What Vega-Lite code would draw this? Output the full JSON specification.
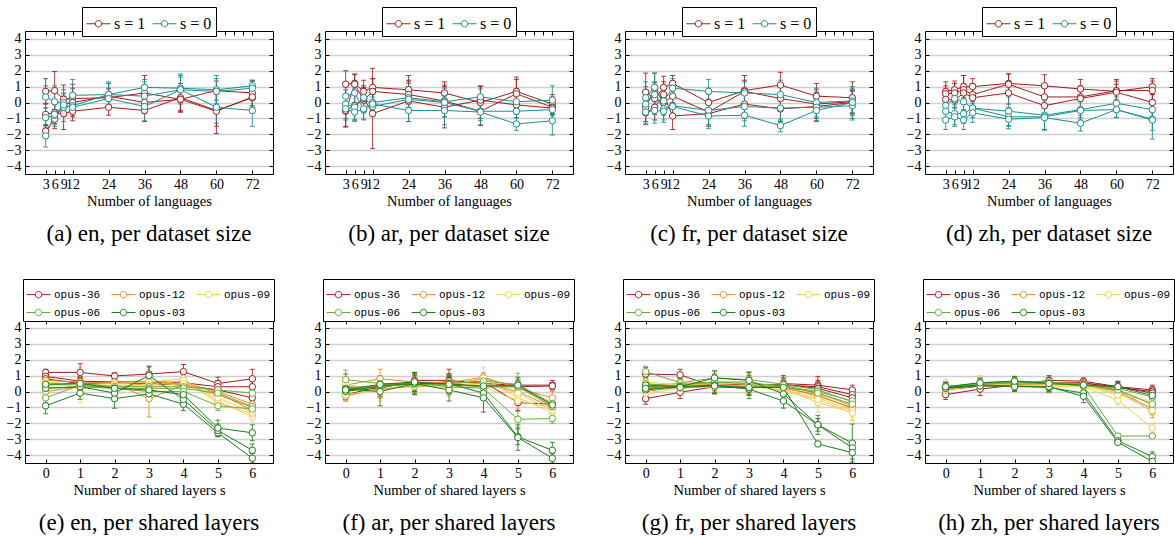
{
 "$schema": "https://vega.github.io/schema/vega-lite/v6.json",
 "background": "white",
 "padding": {"left": 5, "top": 6, "right": 0, "bottom": 0},
 "config": {
  "view": {"stroke": "black", "strokeWidth": 1},
  "font": "Liberation Serif",
  "axis": {"labelFont": "Liberation Serif", "labelFontSize": 14, "labelColor": "black", "titleFont": "Liberation Serif", "titleFontSize": 14.5, "titleFontWeight": "normal", "titleColor": "black", "titlePadding": 3, "domain": false, "tickColor": "black", "grid": false},
  "title": {"font": "Liberation Serif", "fontSize": 23, "fontWeight": "normal", "color": "black", "orient": "bottom", "offset": 15},
  "legend": {"title": null, "strokeColor": "black", "fillColor": "white", "padding": 3, "direction": "horizontal", "symbolType": "M-1,0H-0.27M0.27,0H1M0.27,0A0.27,0.27,0,1,1,-0.27,0A0.27,0.27,0,1,1,0.27,0", "symbolSize": 576, "symbolStrokeWidth": 1, "symbolFillColor": "white", "labelColor": "black", "columnPadding": 6, "rowPadding": 0, "labelOffset": 3}
 },
 "columns": 4,
 "spacing": {"row": 146, "column": 52},
 "bounds": "flush",
 "resolve": {"scale": {"color": "independent", "x": "independent", "y": "independent"}, "legend": {"color": "independent"}},
 "datasets": {
  "a": [
   {"x":3,"g":"s = 1","r":"a","y":0.7,"e":0.8},{"x":6,"g":"s = 1","r":"a","y":0.75,"e":1.2},{"x":9,"g":"s = 1","r":"a","y":0.2,"e":0.9},{"x":12,"g":"s = 1","r":"a","y":0.25,"e":0.9},{"x":24,"g":"s = 1","r":"a","y":0.3,"e":0.6},{"x":36,"g":"s = 1","r":"a","y":0.6,"e":1.1},{"x":48,"g":"s = 1","r":"a","y":0.2,"e":0.7},{"x":60,"g":"s = 1","r":"a","y":0.75,"e":0.6},{"x":72,"g":"s = 1","r":"a","y":0.6,"e":0.8},
   {"x":3,"g":"s = 1","r":"b","y":-0.75,"e":0.7},{"x":6,"g":"s = 1","r":"b","y":-0.65,"e":0.7},{"x":9,"g":"s = 1","r":"b","y":-0.7,"e":1.0},{"x":12,"g":"s = 1","r":"b","y":-0.55,"e":0.6},{"x":24,"g":"s = 1","r":"b","y":-0.3,"e":0.5},{"x":36,"g":"s = 1","r":"b","y":-0.5,"e":0.7},{"x":48,"g":"s = 1","r":"b","y":0.3,"e":0.9},{"x":60,"g":"s = 1","r":"b","y":-0.5,"e":1.0},{"x":72,"g":"s = 1","r":"b","y":0.3,"e":0.6},
   {"x":3,"g":"s = 1","r":"c","y":-1.8,"e":0.4},{"x":6,"g":"s = 1","r":"c","y":-1.05,"e":0.6},{"x":9,"g":"s = 1","r":"c","y":-0.1,"e":0.5},{"x":12,"g":"s = 1","r":"c","y":0.0,"e":0.9},{"x":24,"g":"s = 1","r":"c","y":0.4,"e":0.8},{"x":36,"g":"s = 1","r":"c","y":0.0,"e":0.7},{"x":48,"g":"s = 1","r":"c","y":0.2,"e":0.8},{"x":60,"g":"s = 1","r":"c","y":-0.55,"e":1.4},{"x":72,"g":"s = 1","r":"c","y":0.35,"e":1.0},
   {"x":3,"g":"s = 0","r":"a","y":0.35,"e":0.7},{"x":6,"g":"s = 0","r":"a","y":0.05,"e":1.0},{"x":9,"g":"s = 0","r":"a","y":0.0,"e":0.8},{"x":12,"g":"s = 0","r":"a","y":0.45,"e":1.0},{"x":24,"g":"s = 0","r":"a","y":0.5,"e":0.8},{"x":36,"g":"s = 0","r":"a","y":0.95,"e":0.5},{"x":48,"g":"s = 0","r":"a","y":0.9,"e":0.9},{"x":60,"g":"s = 0","r":"a","y":0.8,"e":0.9},{"x":72,"g":"s = 0","r":"a","y":1.05,"e":0.3},
   {"x":3,"g":"s = 0","r":"b","y":-0.95,"e":0.6},{"x":6,"g":"s = 0","r":"b","y":-0.8,"e":0.7},{"x":9,"g":"s = 0","r":"b","y":-0.3,"e":0.9},{"x":12,"g":"s = 0","r":"b","y":-0.2,"e":0.5},{"x":24,"g":"s = 0","r":"b","y":0.5,"e":0.7},{"x":36,"g":"s = 0","r":"b","y":0.4,"e":0.9},{"x":48,"g":"s = 0","r":"b","y":0.8,"e":0.9},{"x":60,"g":"s = 0","r":"b","y":-0.3,"e":1.0},{"x":72,"g":"s = 0","r":"b","y":-0.5,"e":1.0},
   {"x":3,"g":"s = 0","r":"c","y":-2.1,"e":0.7},{"x":6,"g":"s = 0","r":"c","y":-0.75,"e":0.6},{"x":9,"g":"s = 0","r":"c","y":-0.15,"e":0.7},{"x":12,"g":"s = 0","r":"c","y":-0.3,"e":0.5},{"x":24,"g":"s = 0","r":"c","y":0.25,"e":0.6},{"x":36,"g":"s = 0","r":"c","y":-0.25,"e":0.9},{"x":48,"g":"s = 0","r":"c","y":0.8,"e":0.8},{"x":60,"g":"s = 0","r":"c","y":0.7,"e":0.8},{"x":72,"g":"s = 0","r":"c","y":0.9,"e":0.5}
  ],
  "b": [
   {"x":3,"g":"s = 1","r":"a","y":1.15,"e":0.85},{"x":6,"g":"s = 1","r":"a","y":1.2,"e":0.6},{"x":9,"g":"s = 1","r":"a","y":0.7,"e":0.7},{"x":12,"g":"s = 1","r":"a","y":0.95,"e":1.2},{"x":24,"g":"s = 1","r":"a","y":0.8,"e":0.9},{"x":36,"g":"s = 1","r":"a","y":0.6,"e":0.7},{"x":48,"g":"s = 1","r":"a","y":0.0,"e":1.0},{"x":60,"g":"s = 1","r":"a","y":0.7,"e":0.9},{"x":72,"g":"s = 1","r":"a","y":-0.1,"e":0.6},
   {"x":3,"g":"s = 1","r":"b","y":-0.55,"e":1.0},{"x":6,"g":"s = 1","r":"b","y":1.15,"e":0.6},{"x":9,"g":"s = 1","r":"b","y":0.15,"e":0.8},{"x":12,"g":"s = 1","r":"b","y":0.7,"e":0.8},{"x":24,"g":"s = 1","r":"b","y":0.5,"e":0.8},{"x":36,"g":"s = 1","r":"b","y":0.1,"e":1.0},{"x":48,"g":"s = 1","r":"b","y":-0.55,"e":0.9},{"x":60,"g":"s = 1","r":"b","y":0.55,"e":0.9},{"x":72,"g":"s = 1","r":"b","y":-0.3,"e":0.5},
   {"x":3,"g":"s = 1","r":"c","y":-0.5,"e":1.0},{"x":6,"g":"s = 1","r":"c","y":-0.2,"e":0.9},{"x":9,"g":"s = 1","r":"c","y":0.25,"e":0.8},{"x":12,"g":"s = 1","r":"c","y":-0.7,"e":2.2},{"x":24,"g":"s = 1","r":"c","y":0.1,"e":1.3},{"x":36,"g":"s = 1","r":"c","y":-0.3,"e":1.3},{"x":48,"g":"s = 1","r":"c","y":0.15,"e":0.9},{"x":60,"g":"s = 1","r":"c","y":-0.15,"e":0.8},{"x":72,"g":"s = 1","r":"c","y":-0.35,"e":0.7},
   {"x":3,"g":"s = 0","r":"a","y":0.4,"e":0.6},{"x":6,"g":"s = 0","r":"a","y":0.6,"e":0.8},{"x":9,"g":"s = 0","r":"a","y":-0.45,"e":0.6},{"x":12,"g":"s = 0","r":"a","y":0.0,"e":0.5},{"x":24,"g":"s = 0","r":"a","y":0.3,"e":0.9},{"x":36,"g":"s = 0","r":"a","y":0.05,"e":0.7},{"x":48,"g":"s = 0","r":"a","y":0.35,"e":0.5},{"x":60,"g":"s = 0","r":"a","y":0.05,"e":0.8},{"x":72,"g":"s = 0","r":"a","y":0.15,"e":0.9},
   {"x":3,"g":"s = 0","r":"b","y":-0.1,"e":0.9},{"x":6,"g":"s = 0","r":"b","y":-0.3,"e":0.8},{"x":9,"g":"s = 0","r":"b","y":0.3,"e":0.6},{"x":12,"g":"s = 0","r":"b","y":-0.25,"e":0.6},{"x":24,"g":"s = 0","r":"b","y":0.2,"e":0.8},{"x":36,"g":"s = 0","r":"b","y":0.0,"e":0.9},{"x":48,"g":"s = 0","r":"b","y":-0.55,"e":0.6},{"x":60,"g":"s = 0","r":"b","y":-0.55,"e":0.7},{"x":72,"g":"s = 0","r":"b","y":-0.45,"e":0.6},
   {"x":3,"g":"s = 0","r":"c","y":-0.4,"e":0.7},{"x":6,"g":"s = 0","r":"c","y":-0.6,"e":0.6},{"x":9,"g":"s = 0","r":"c","y":-0.4,"e":0.7},{"x":12,"g":"s = 0","r":"c","y":-0.1,"e":0.6},{"x":24,"g":"s = 0","r":"c","y":-0.5,"e":0.7},{"x":36,"g":"s = 0","r":"c","y":-0.5,"e":0.9},{"x":48,"g":"s = 0","r":"c","y":-0.6,"e":0.8},{"x":60,"g":"s = 0","r":"c","y":-1.35,"e":0.4},{"x":72,"g":"s = 0","r":"c","y":-1.15,"e":0.9}
  ],
  "c": [
   {"x":3,"g":"s = 1","r":"a","y":0.65,"e":1.2},{"x":6,"g":"s = 1","r":"a","y":0.25,"e":1.0},{"x":9,"g":"s = 1","r":"a","y":0.95,"e":0.7},{"x":12,"g":"s = 1","r":"a","y":1.2,"e":0.5},{"x":24,"g":"s = 1","r":"a","y":0.0,"e":0.9},{"x":36,"g":"s = 1","r":"a","y":0.75,"e":0.95},{"x":48,"g":"s = 1","r":"a","y":1.1,"e":0.8},{"x":60,"g":"s = 1","r":"a","y":0.4,"e":0.8},{"x":72,"g":"s = 1","r":"a","y":0.3,"e":1.0},
   {"x":3,"g":"s = 1","r":"b","y":-0.3,"e":0.9},{"x":6,"g":"s = 1","r":"b","y":0.85,"e":1.0},{"x":9,"g":"s = 1","r":"b","y":0.0,"e":0.8},{"x":12,"g":"s = 1","r":"b","y":0.4,"e":0.7},{"x":24,"g":"s = 1","r":"b","y":-0.6,"e":0.8},{"x":36,"g":"s = 1","r":"b","y":0.7,"e":0.7},{"x":48,"g":"s = 1","r":"b","y":0.25,"e":0.8},{"x":60,"g":"s = 1","r":"b","y":-0.1,"e":0.9},{"x":72,"g":"s = 1","r":"b","y":0.05,"e":0.7},
   {"x":3,"g":"s = 1","r":"c","y":-0.65,"e":0.7},{"x":6,"g":"s = 1","r":"c","y":-0.3,"e":0.8},{"x":9,"g":"s = 1","r":"c","y":0.5,"e":0.8},{"x":12,"g":"s = 1","r":"c","y":-0.85,"e":0.85},{"x":24,"g":"s = 1","r":"c","y":-0.7,"e":0.8},{"x":36,"g":"s = 1","r":"c","y":-0.1,"e":0.9},{"x":48,"g":"s = 1","r":"c","y":-0.4,"e":0.8},{"x":60,"g":"s = 1","r":"c","y":-0.25,"e":0.9},{"x":72,"g":"s = 1","r":"c","y":0.0,"e":0.8},
   {"x":3,"g":"s = 0","r":"a","y":0.3,"e":1.0},{"x":6,"g":"s = 0","r":"a","y":0.95,"e":0.9},{"x":9,"g":"s = 0","r":"a","y":0.1,"e":0.8},{"x":12,"g":"s = 0","r":"a","y":0.9,"e":0.6},{"x":24,"g":"s = 0","r":"a","y":0.7,"e":0.75},{"x":36,"g":"s = 0","r":"a","y":0.6,"e":0.7},{"x":48,"g":"s = 0","r":"a","y":0.5,"e":0.9},{"x":60,"g":"s = 0","r":"a","y":0.0,"e":0.9},{"x":72,"g":"s = 0","r":"a","y":0.1,"e":0.8},
   {"x":3,"g":"s = 0","r":"b","y":-0.1,"e":1.1},{"x":6,"g":"s = 0","r":"b","y":0.5,"e":0.8},{"x":9,"g":"s = 0","r":"b","y":-0.4,"e":0.7},{"x":12,"g":"s = 0","r":"b","y":-0.2,"e":0.6},{"x":24,"g":"s = 0","r":"b","y":-0.5,"e":1.0},{"x":36,"g":"s = 0","r":"b","y":-0.25,"e":0.9},{"x":48,"g":"s = 0","r":"b","y":-0.35,"e":0.8},{"x":60,"g":"s = 0","r":"b","y":-0.3,"e":0.9},{"x":72,"g":"s = 0","r":"b","y":-0.2,"e":0.9},
   {"x":3,"g":"s = 0","r":"c","y":-0.6,"e":0.8},{"x":6,"g":"s = 0","r":"c","y":-0.5,"e":0.8},{"x":9,"g":"s = 0","r":"c","y":-0.55,"e":0.7},{"x":12,"g":"s = 0","r":"c","y":-0.25,"e":0.6},{"x":24,"g":"s = 0","r":"c","y":-0.85,"e":0.8},{"x":36,"g":"s = 0","r":"c","y":-0.8,"e":0.7},{"x":48,"g":"s = 0","r":"c","y":-1.45,"e":0.4},{"x":60,"g":"s = 0","r":"c","y":-0.5,"e":0.7},{"x":72,"g":"s = 0","r":"c","y":0.0,"e":1.0}
  ],
  "d": [
   {"x":3,"g":"s = 1","r":"a","y":0.7,"e":0.6},{"x":6,"g":"s = 1","r":"a","y":0.8,"e":0.55},{"x":9,"g":"s = 1","r":"a","y":1.0,"e":0.7},{"x":12,"g":"s = 1","r":"a","y":1.0,"e":0.5},{"x":24,"g":"s = 1","r":"a","y":1.2,"e":0.6},{"x":36,"g":"s = 1","r":"a","y":1.05,"e":0.7},{"x":48,"g":"s = 1","r":"a","y":0.85,"e":0.6},{"x":60,"g":"s = 1","r":"a","y":0.7,"e":0.75},{"x":72,"g":"s = 1","r":"a","y":1.0,"e":0.5},
   {"x":3,"g":"s = 1","r":"b","y":0.55,"e":0.5},{"x":6,"g":"s = 1","r":"b","y":0.6,"e":0.6},{"x":9,"g":"s = 1","r":"b","y":0.8,"e":0.9},{"x":12,"g":"s = 1","r":"b","y":0.5,"e":0.7},{"x":24,"g":"s = 1","r":"b","y":1.15,"e":0.65},{"x":36,"g":"s = 1","r":"b","y":0.35,"e":0.6},{"x":48,"g":"s = 1","r":"b","y":0.35,"e":0.7},{"x":60,"g":"s = 1","r":"b","y":0.75,"e":0.6},{"x":72,"g":"s = 1","r":"b","y":0.75,"e":0.6},
   {"x":3,"g":"s = 1","r":"c","y":0.2,"e":0.4},{"x":6,"g":"s = 1","r":"c","y":0.15,"e":0.5},{"x":9,"g":"s = 1","r":"c","y":0.6,"e":0.6},{"x":12,"g":"s = 1","r":"c","y":0.3,"e":0.6},{"x":24,"g":"s = 1","r":"c","y":0.6,"e":0.7},{"x":36,"g":"s = 1","r":"c","y":-0.2,"e":0.5},{"x":48,"g":"s = 1","r":"c","y":0.25,"e":0.6},{"x":60,"g":"s = 1","r":"c","y":0.65,"e":0.5},{"x":72,"g":"s = 1","r":"c","y":0.0,"e":0.5},
   {"x":3,"g":"s = 0","r":"a","y":-0.2,"e":0.5},{"x":6,"g":"s = 0","r":"a","y":0.25,"e":0.4},{"x":9,"g":"s = 0","r":"a","y":0.05,"e":0.5},{"x":12,"g":"s = 0","r":"a","y":-0.35,"e":0.4},{"x":24,"g":"s = 0","r":"a","y":-0.55,"e":0.9},{"x":36,"g":"s = 0","r":"a","y":-0.8,"e":0.9},{"x":48,"g":"s = 0","r":"a","y":-0.45,"e":0.5},{"x":60,"g":"s = 0","r":"a","y":-0.05,"e":0.4},{"x":72,"g":"s = 0","r":"a","y":-0.45,"e":0.6},
   {"x":3,"g":"s = 0","r":"b","y":-0.55,"e":0.5},{"x":6,"g":"s = 0","r":"b","y":-0.7,"e":0.7},{"x":9,"g":"s = 0","r":"b","y":-0.7,"e":0.6},{"x":12,"g":"s = 0","r":"b","y":-0.35,"e":0.6},{"x":24,"g":"s = 0","r":"b","y":-0.9,"e":0.6},{"x":36,"g":"s = 0","r":"b","y":-0.9,"e":0.8},{"x":48,"g":"s = 0","r":"b","y":-0.5,"e":0.6},{"x":60,"g":"s = 0","r":"b","y":-0.45,"e":0.5},{"x":72,"g":"s = 0","r":"b","y":-1.05,"e":0.7},
   {"x":3,"g":"s = 0","r":"c","y":-1.1,"e":0.6},{"x":6,"g":"s = 0","r":"c","y":-0.9,"e":0.6},{"x":9,"g":"s = 0","r":"c","y":-1.1,"e":0.6},{"x":12,"g":"s = 0","r":"c","y":-0.65,"e":0.6},{"x":24,"g":"s = 0","r":"c","y":-1.05,"e":0.6},{"x":36,"g":"s = 0","r":"c","y":-0.95,"e":0.8},{"x":48,"g":"s = 0","r":"c","y":-1.3,"e":0.5},{"x":60,"g":"s = 0","r":"c","y":-0.45,"e":0.5},{"x":72,"g":"s = 0","r":"c","y":-1.1,"e":1.2}
  ],
  "e": [
   {"x":0,"g":"opus-36","r":"a","y":1.2,"e":0.2},{"x":1,"g":"opus-36","r":"a","y":1.2,"e":0.55},{"x":2,"g":"opus-36","r":"a","y":0.98,"e":0.2},{"x":3,"g":"opus-36","r":"a","y":1.1,"e":0.45},{"x":4,"g":"opus-36","r":"a","y":1.25,"e":0.45},{"x":5,"g":"opus-36","r":"a","y":0.5,"e":0.4},{"x":6,"g":"opus-36","r":"a","y":0.8,"e":0.6},
   {"x":0,"g":"opus-36","r":"b","y":0.95,"e":0.2},{"x":1,"g":"opus-36","r":"b","y":0.65,"e":0.3},{"x":2,"g":"opus-36","r":"b","y":0.6,"e":0.2},{"x":3,"g":"opus-36","r":"b","y":0.6,"e":0.3},{"x":4,"g":"opus-36","r":"b","y":0.55,"e":0.3},{"x":5,"g":"opus-36","r":"b","y":0.3,"e":0.4},{"x":6,"g":"opus-36","r":"b","y":0.3,"e":0.4},
   {"x":0,"g":"opus-36","r":"c","y":0.8,"e":0.2},{"x":1,"g":"opus-36","r":"c","y":0.5,"e":0.3},{"x":2,"g":"opus-36","r":"c","y":0.55,"e":0.3},{"x":3,"g":"opus-36","r":"c","y":0.5,"e":0.3},{"x":4,"g":"opus-36","r":"c","y":0.4,"e":0.3},{"x":5,"g":"opus-36","r":"c","y":0.1,"e":0.3},{"x":6,"g":"opus-36","r":"c","y":-0.4,"e":0.3},
   {"x":0,"g":"opus-12","r":"a","y":0.7,"e":0.3},{"x":1,"g":"opus-12","r":"a","y":0.6,"e":0.5},{"x":2,"g":"opus-12","r":"a","y":0.5,"e":0.3},{"x":3,"g":"opus-12","r":"a","y":-0.45,"e":1.15},{"x":4,"g":"opus-12","r":"a","y":0.4,"e":0.4},{"x":5,"g":"opus-12","r":"a","y":-0.2,"e":0.4},{"x":6,"g":"opus-12","r":"a","y":-1.0,"e":0.4},
   {"x":0,"g":"opus-12","r":"b","y":0.0,"e":0.3},{"x":1,"g":"opus-12","r":"b","y":0.3,"e":0.4},{"x":2,"g":"opus-12","r":"b","y":0.3,"e":0.3},{"x":3,"g":"opus-12","r":"b","y":0.5,"e":0.4},{"x":4,"g":"opus-12","r":"b","y":0.5,"e":0.4},{"x":5,"g":"opus-12","r":"b","y":0.0,"e":0.4},{"x":6,"g":"opus-12","r":"b","y":-0.8,"e":0.4},
   {"x":0,"g":"opus-12","r":"c","y":0.5,"e":0.3},{"x":1,"g":"opus-12","r":"c","y":0.5,"e":0.4},{"x":2,"g":"opus-12","r":"c","y":0.6,"e":0.3},{"x":3,"g":"opus-12","r":"c","y":0.6,"e":0.3},{"x":4,"g":"opus-12","r":"c","y":0.6,"e":0.3},{"x":5,"g":"opus-12","r":"c","y":-0.1,"e":0.4},{"x":6,"g":"opus-12","r":"c","y":-1.2,"e":0.3},
   {"x":0,"g":"opus-09","r":"a","y":0.6,"e":0.3},{"x":1,"g":"opus-09","r":"a","y":0.4,"e":1.1},{"x":2,"g":"opus-09","r":"a","y":0.5,"e":0.3},{"x":3,"g":"opus-09","r":"a","y":0.6,"e":0.3},{"x":4,"g":"opus-09","r":"a","y":0.8,"e":0.3},{"x":5,"g":"opus-09","r":"a","y":-0.6,"e":0.3},{"x":6,"g":"opus-09","r":"a","y":-1.6,"e":0.3},
   {"x":0,"g":"opus-09","r":"b","y":0.5,"e":0.3},{"x":1,"g":"opus-09","r":"b","y":0.3,"e":0.4},{"x":2,"g":"opus-09","r":"b","y":0.4,"e":0.3},{"x":3,"g":"opus-09","r":"b","y":0.4,"e":0.3},{"x":4,"g":"opus-09","r":"b","y":0.7,"e":0.3},{"x":5,"g":"opus-09","r":"b","y":-0.7,"e":0.3},{"x":6,"g":"opus-09","r":"b","y":-1.4,"e":0.3},
   {"x":0,"g":"opus-09","r":"c","y":0.3,"e":0.3},{"x":1,"g":"opus-09","r":"c","y":0.2,"e":0.4},{"x":2,"g":"opus-09","r":"c","y":0.3,"e":0.3},{"x":3,"g":"opus-09","r":"c","y":0.3,"e":0.3},{"x":4,"g":"opus-09","r":"c","y":0.5,"e":0.3},{"x":5,"g":"opus-09","r":"c","y":-0.4,"e":0.3},{"x":6,"g":"opus-09","r":"c","y":-1.3,"e":0.3},
   {"x":0,"g":"opus-06","r":"a","y":0.4,"e":0.3},{"x":1,"g":"opus-06","r":"a","y":0.5,"e":0.4},{"x":2,"g":"opus-06","r":"a","y":0.3,"e":0.3},{"x":3,"g":"opus-06","r":"a","y":0.3,"e":0.3},{"x":4,"g":"opus-06","r":"a","y":0.3,"e":0.3},{"x":5,"g":"opus-06","r":"a","y":0.1,"e":0.3},{"x":6,"g":"opus-06","r":"a","y":-0.1,"e":0.3},
   {"x":0,"g":"opus-06","r":"b","y":-0.4,"e":0.3},{"x":1,"g":"opus-06","r":"b","y":0.4,"e":0.4},{"x":2,"g":"opus-06","r":"b","y":0.2,"e":0.3},{"x":3,"g":"opus-06","r":"b","y":0.2,"e":0.3},{"x":4,"g":"opus-06","r":"b","y":0.2,"e":0.3},{"x":5,"g":"opus-06","r":"b","y":-0.1,"e":0.3},{"x":6,"g":"opus-06","r":"b","y":-0.95,"e":0.3},
   {"x":0,"g":"opus-06","r":"c","y":0.2,"e":0.3},{"x":1,"g":"opus-06","r":"c","y":0.3,"e":0.4},{"x":2,"g":"opus-06","r":"c","y":0.2,"e":0.3},{"x":3,"g":"opus-06","r":"c","y":0.0,"e":0.3},{"x":4,"g":"opus-06","r":"c","y":0.0,"e":0.3},{"x":5,"g":"opus-06","r":"c","y":-0.9,"e":0.3},{"x":6,"g":"opus-06","r":"c","y":-1.1,"e":0.3},
   {"x":0,"g":"opus-03","r":"a","y":-0.9,"e":0.5},{"x":1,"g":"opus-03","r":"a","y":-0.1,"e":0.4},{"x":2,"g":"opus-03","r":"a","y":-0.45,"e":0.6},{"x":3,"g":"opus-03","r":"a","y":-0.15,"e":0.4},{"x":4,"g":"opus-03","r":"a","y":-0.8,"e":0.4},{"x":5,"g":"opus-03","r":"a","y":-2.6,"e":0.2},{"x":6,"g":"opus-03","r":"a","y":-4.2,"e":0.3},
   {"x":0,"g":"opus-03","r":"b","y":0.2,"e":0.3},{"x":1,"g":"opus-03","r":"b","y":0.3,"e":0.4},{"x":2,"g":"opus-03","r":"b","y":-0.1,"e":0.3},{"x":3,"g":"opus-03","r":"b","y":1.0,"e":0.6},{"x":4,"g":"opus-03","r":"b","y":-0.5,"e":0.4},{"x":5,"g":"opus-03","r":"b","y":-2.45,"e":0.4},{"x":6,"g":"opus-03","r":"b","y":-3.7,"e":0.4},
   {"x":0,"g":"opus-03","r":"c","y":0.45,"e":0.3},{"x":1,"g":"opus-03","r":"c","y":0.5,"e":0.4},{"x":2,"g":"opus-03","r":"c","y":0.2,"e":0.3},{"x":3,"g":"opus-03","r":"c","y":0.1,"e":0.3},{"x":4,"g":"opus-03","r":"c","y":-0.2,"e":0.3},{"x":5,"g":"opus-03","r":"c","y":-2.3,"e":0.5},{"x":6,"g":"opus-03","r":"c","y":-2.6,"e":0.5}
  ],
  "f": [
   {"x":0,"g":"opus-36","r":"a","y":0.3,"e":0.8},{"x":1,"g":"opus-36","r":"a","y":0.2,"e":0.5},{"x":2,"g":"opus-36","r":"a","y":0.7,"e":0.5},{"x":3,"g":"opus-36","r":"a","y":0.7,"e":0.7},{"x":4,"g":"opus-36","r":"a","y":0.5,"e":0.4},{"x":5,"g":"opus-36","r":"a","y":0.4,"e":0.3},{"x":6,"g":"opus-36","r":"a","y":0.4,"e":0.3},
   {"x":0,"g":"opus-36","r":"b","y":-0.2,"e":0.4},{"x":1,"g":"opus-36","r":"b","y":0.3,"e":0.5},{"x":2,"g":"opus-36","r":"b","y":0.5,"e":0.5},{"x":3,"g":"opus-36","r":"b","y":0.6,"e":0.5},{"x":4,"g":"opus-36","r":"b","y":0.6,"e":0.4},{"x":5,"g":"opus-36","r":"b","y":-0.7,"e":0.5},{"x":6,"g":"opus-36","r":"b","y":-0.8,"e":0.3},
   {"x":0,"g":"opus-36","r":"c","y":0.2,"e":0.4},{"x":1,"g":"opus-36","r":"c","y":0.1,"e":0.5},{"x":2,"g":"opus-36","r":"c","y":0.4,"e":0.4},{"x":3,"g":"opus-36","r":"c","y":0.5,"e":0.5},{"x":4,"g":"opus-36","r":"c","y":0.3,"e":0.4},{"x":5,"g":"opus-36","r":"c","y":0.3,"e":0.3},{"x":6,"g":"opus-36","r":"c","y":0.35,"e":0.2},
   {"x":0,"g":"opus-12","r":"a","y":0.4,"e":0.4},{"x":1,"g":"opus-12","r":"a","y":0.8,"e":0.6},{"x":2,"g":"opus-12","r":"a","y":0.6,"e":0.5},{"x":3,"g":"opus-12","r":"a","y":0.55,"e":0.5},{"x":4,"g":"opus-12","r":"a","y":0.9,"e":0.3},{"x":5,"g":"opus-12","r":"a","y":0.2,"e":0.5},{"x":6,"g":"opus-12","r":"a","y":-0.4,"e":0.4},
   {"x":0,"g":"opus-12","r":"b","y":-0.3,"e":0.3},{"x":1,"g":"opus-12","r":"b","y":0.2,"e":0.5},{"x":2,"g":"opus-12","r":"b","y":0.3,"e":0.5},{"x":3,"g":"opus-12","r":"b","y":0.4,"e":0.5},{"x":4,"g":"opus-12","r":"b","y":0.8,"e":0.3},{"x":5,"g":"opus-12","r":"b","y":0.3,"e":0.4},{"x":6,"g":"opus-12","r":"b","y":-0.8,"e":0.4},
   {"x":0,"g":"opus-12","r":"c","y":0.0,"e":0.4},{"x":1,"g":"opus-12","r":"c","y":0.4,"e":0.5},{"x":2,"g":"opus-12","r":"c","y":0.5,"e":0.5},{"x":3,"g":"opus-12","r":"c","y":0.6,"e":0.5},{"x":4,"g":"opus-12","r":"c","y":0.5,"e":0.4},{"x":5,"g":"opus-12","r":"c","y":0.0,"e":0.5},{"x":6,"g":"opus-12","r":"c","y":-1.0,"e":0.4},
   {"x":0,"g":"opus-09","r":"a","y":0.5,"e":0.4},{"x":1,"g":"opus-09","r":"a","y":0.0,"e":0.6},{"x":2,"g":"opus-09","r":"a","y":0.6,"e":0.5},{"x":3,"g":"opus-09","r":"a","y":0.4,"e":0.5},{"x":4,"g":"opus-09","r":"a","y":0.85,"e":0.7},{"x":5,"g":"opus-09","r":"a","y":-0.4,"e":0.6},{"x":6,"g":"opus-09","r":"a","y":-1.3,"e":0.5},
   {"x":0,"g":"opus-09","r":"b","y":0.2,"e":0.4},{"x":1,"g":"opus-09","r":"b","y":0.3,"e":0.5},{"x":2,"g":"opus-09","r":"b","y":0.5,"e":0.5},{"x":3,"g":"opus-09","r":"b","y":0.3,"e":0.5},{"x":4,"g":"opus-09","r":"b","y":0.5,"e":0.4},{"x":5,"g":"opus-09","r":"b","y":-0.1,"e":0.5},{"x":6,"g":"opus-09","r":"b","y":-1.2,"e":0.4},
   {"x":0,"g":"opus-09","r":"c","y":-0.2,"e":0.4},{"x":1,"g":"opus-09","r":"c","y":0.1,"e":0.5},{"x":2,"g":"opus-09","r":"c","y":0.4,"e":0.5},{"x":3,"g":"opus-09","r":"c","y":0.2,"e":0.5},{"x":4,"g":"opus-09","r":"c","y":0.3,"e":0.4},{"x":5,"g":"opus-09","r":"c","y":-0.6,"e":0.5},{"x":6,"g":"opus-09","r":"c","y":-1.0,"e":0.4},
   {"x":0,"g":"opus-06","r":"a","y":0.75,"e":0.6},{"x":1,"g":"opus-06","r":"a","y":0.5,"e":0.5},{"x":2,"g":"opus-06","r":"a","y":0.5,"e":0.5},{"x":3,"g":"opus-06","r":"a","y":0.5,"e":0.5},{"x":4,"g":"opus-06","r":"a","y":0.65,"e":0.4},{"x":5,"g":"opus-06","r":"a","y":0.45,"e":0.7},{"x":6,"g":"opus-06","r":"a","y":-0.75,"e":0.4},
   {"x":0,"g":"opus-06","r":"b","y":0.1,"e":0.5},{"x":1,"g":"opus-06","r":"b","y":0.3,"e":0.5},{"x":2,"g":"opus-06","r":"b","y":0.5,"e":0.5},{"x":3,"g":"opus-06","r":"b","y":0.4,"e":0.5},{"x":4,"g":"opus-06","r":"b","y":0.3,"e":0.4},{"x":5,"g":"opus-06","r":"b","y":0.3,"e":0.5},{"x":6,"g":"opus-06","r":"b","y":-0.95,"e":0.4},
   {"x":0,"g":"opus-06","r":"c","y":0.2,"e":0.4},{"x":1,"g":"opus-06","r":"c","y":0.4,"e":0.5},{"x":2,"g":"opus-06","r":"c","y":0.55,"e":0.5},{"x":3,"g":"opus-06","r":"c","y":0.3,"e":0.5},{"x":4,"g":"opus-06","r":"c","y":0.2,"e":0.4},{"x":5,"g":"opus-06","r":"c","y":-1.75,"e":0.5},{"x":6,"g":"opus-06","r":"c","y":-1.7,"e":0.3},
   {"x":0,"g":"opus-03","r":"a","y":0.0,"e":0.5},{"x":1,"g":"opus-03","r":"a","y":0.35,"e":0.5},{"x":2,"g":"opus-03","r":"a","y":0.5,"e":0.7},{"x":3,"g":"opus-03","r":"a","y":0.5,"e":0.6},{"x":4,"g":"opus-03","r":"a","y":-0.1,"e":0.4},{"x":5,"g":"opus-03","r":"a","y":-2.85,"e":0.5},{"x":6,"g":"opus-03","r":"a","y":-3.7,"e":0.5},
   {"x":0,"g":"opus-03","r":"b","y":0.15,"e":0.4},{"x":1,"g":"opus-03","r":"b","y":0.0,"e":0.9},{"x":2,"g":"opus-03","r":"b","y":0.5,"e":0.6},{"x":3,"g":"opus-03","r":"b","y":0.1,"e":0.7},{"x":4,"g":"opus-03","r":"b","y":-0.4,"e":0.9},{"x":5,"g":"opus-03","r":"b","y":-2.9,"e":0.8},{"x":6,"g":"opus-03","r":"b","y":-4.2,"e":0.3},
   {"x":0,"g":"opus-03","r":"c","y":0.1,"e":0.4},{"x":1,"g":"opus-03","r":"c","y":0.45,"e":0.5},{"x":2,"g":"opus-03","r":"c","y":0.6,"e":0.6},{"x":3,"g":"opus-03","r":"c","y":0.45,"e":0.5},{"x":4,"g":"opus-03","r":"c","y":0.35,"e":0.4},{"x":5,"g":"opus-03","r":"c","y":0.4,"e":0.5},{"x":6,"g":"opus-03","r":"c","y":-0.85,"e":0.4}
  ],
  "g": [
   {"x":0,"g":"opus-36","r":"a","y":1.1,"e":0.4},{"x":1,"g":"opus-36","r":"a","y":1.05,"e":0.35},{"x":2,"g":"opus-36","r":"a","y":0.3,"e":0.4},{"x":3,"g":"opus-36","r":"a","y":0.2,"e":0.4},{"x":4,"g":"opus-36","r":"a","y":0.5,"e":0.5},{"x":5,"g":"opus-36","r":"a","y":0.4,"e":0.55},{"x":6,"g":"opus-36","r":"a","y":0.1,"e":0.3},
   {"x":0,"g":"opus-36","r":"b","y":-0.45,"e":0.35},{"x":1,"g":"opus-36","r":"b","y":-0.05,"e":0.4},{"x":2,"g":"opus-36","r":"b","y":0.3,"e":0.4},{"x":3,"g":"opus-36","r":"b","y":0.3,"e":0.4},{"x":4,"g":"opus-36","r":"b","y":0.4,"e":0.4},{"x":5,"g":"opus-36","r":"b","y":0.3,"e":0.4},{"x":6,"g":"opus-36","r":"b","y":-0.2,"e":0.3},
   {"x":0,"g":"opus-36","r":"c","y":0.3,"e":0.4},{"x":1,"g":"opus-36","r":"c","y":0.4,"e":0.4},{"x":2,"g":"opus-36","r":"c","y":0.5,"e":0.4},{"x":3,"g":"opus-36","r":"c","y":0.4,"e":0.4},{"x":4,"g":"opus-36","r":"c","y":0.45,"e":0.4},{"x":5,"g":"opus-36","r":"c","y":0.2,"e":0.4},{"x":6,"g":"opus-36","r":"c","y":-0.4,"e":0.3},
   {"x":0,"g":"opus-12","r":"a","y":0.2,"e":0.4},{"x":1,"g":"opus-12","r":"a","y":0.4,"e":0.4},{"x":2,"g":"opus-12","r":"a","y":0.5,"e":0.5},{"x":3,"g":"opus-12","r":"a","y":0.5,"e":0.5},{"x":4,"g":"opus-12","r":"a","y":0.3,"e":0.4},{"x":5,"g":"opus-12","r":"a","y":-0.1,"e":0.4},{"x":6,"g":"opus-12","r":"a","y":-0.9,"e":0.4},
   {"x":0,"g":"opus-12","r":"b","y":0.0,"e":0.4},{"x":1,"g":"opus-12","r":"b","y":0.3,"e":0.4},{"x":2,"g":"opus-12","r":"b","y":0.4,"e":0.5},{"x":3,"g":"opus-12","r":"b","y":0.4,"e":0.5},{"x":4,"g":"opus-12","r":"b","y":0.3,"e":0.4},{"x":5,"g":"opus-12","r":"b","y":-0.3,"e":0.4},{"x":6,"g":"opus-12","r":"b","y":-1.0,"e":0.4},
   {"x":0,"g":"opus-12","r":"c","y":0.4,"e":0.4},{"x":1,"g":"opus-12","r":"c","y":0.5,"e":0.4},{"x":2,"g":"opus-12","r":"c","y":0.6,"e":0.5},{"x":3,"g":"opus-12","r":"c","y":0.6,"e":0.5},{"x":4,"g":"opus-12","r":"c","y":0.2,"e":0.4},{"x":5,"g":"opus-12","r":"c","y":-0.2,"e":0.4},{"x":6,"g":"opus-12","r":"c","y":-1.1,"e":0.4},
   {"x":0,"g":"opus-09","r":"a","y":0.6,"e":0.4},{"x":1,"g":"opus-09","r":"a","y":0.4,"e":0.4},{"x":2,"g":"opus-09","r":"a","y":0.5,"e":0.5},{"x":3,"g":"opus-09","r":"a","y":0.5,"e":0.5},{"x":4,"g":"opus-09","r":"a","y":0.2,"e":0.4},{"x":5,"g":"opus-09","r":"a","y":-0.7,"e":0.6},{"x":6,"g":"opus-09","r":"a","y":-1.3,"e":0.5},
   {"x":0,"g":"opus-09","r":"b","y":0.1,"e":0.4},{"x":1,"g":"opus-09","r":"b","y":0.3,"e":0.4},{"x":2,"g":"opus-09","r":"b","y":0.4,"e":0.5},{"x":3,"g":"opus-09","r":"b","y":0.3,"e":0.5},{"x":4,"g":"opus-09","r":"b","y":0.1,"e":0.4},{"x":5,"g":"opus-09","r":"b","y":-0.4,"e":0.4},{"x":6,"g":"opus-09","r":"b","y":-1.2,"e":0.4},
   {"x":0,"g":"opus-09","r":"c","y":-0.1,"e":0.4},{"x":1,"g":"opus-09","r":"c","y":0.2,"e":0.4},{"x":2,"g":"opus-09","r":"c","y":0.3,"e":0.5},{"x":3,"g":"opus-09","r":"c","y":0.4,"e":0.5},{"x":4,"g":"opus-09","r":"c","y":0.0,"e":0.4},{"x":5,"g":"opus-09","r":"c","y":-0.5,"e":0.4},{"x":6,"g":"opus-09","r":"c","y":-1.35,"e":0.5},
   {"x":0,"g":"opus-06","r":"a","y":1.25,"e":0.35},{"x":1,"g":"opus-06","r":"a","y":0.55,"e":0.4},{"x":2,"g":"opus-06","r":"a","y":0.85,"e":0.45},{"x":3,"g":"opus-06","r":"a","y":0.75,"e":0.5},{"x":4,"g":"opus-06","r":"a","y":0.45,"e":0.4},{"x":5,"g":"opus-06","r":"a","y":0.1,"e":0.4},{"x":6,"g":"opus-06","r":"a","y":-0.65,"e":0.4},
   {"x":0,"g":"opus-06","r":"b","y":0.5,"e":0.4},{"x":1,"g":"opus-06","r":"b","y":0.3,"e":0.4},{"x":2,"g":"opus-06","r":"b","y":0.4,"e":0.5},{"x":3,"g":"opus-06","r":"b","y":0.3,"e":0.5},{"x":4,"g":"opus-06","r":"b","y":0.3,"e":0.4},{"x":5,"g":"opus-06","r":"b","y":0.0,"e":0.4},{"x":6,"g":"opus-06","r":"b","y":-0.6,"e":0.4},
   {"x":0,"g":"opus-06","r":"c","y":0.3,"e":0.4},{"x":1,"g":"opus-06","r":"c","y":0.4,"e":0.4},{"x":2,"g":"opus-06","r":"c","y":0.6,"e":0.5},{"x":3,"g":"opus-06","r":"c","y":0.5,"e":0.5},{"x":4,"g":"opus-06","r":"c","y":0.4,"e":0.4},{"x":5,"g":"opus-06","r":"c","y":-0.1,"e":0.4},{"x":6,"g":"opus-06","r":"c","y":-0.8,"e":0.4},
   {"x":0,"g":"opus-03","r":"a","y":0.4,"e":0.4},{"x":1,"g":"opus-03","r":"a","y":0.3,"e":0.4},{"x":2,"g":"opus-03","r":"a","y":0.85,"e":0.45},{"x":3,"g":"opus-03","r":"a","y":0.7,"e":0.5},{"x":4,"g":"opus-03","r":"a","y":-0.15,"e":0.4},{"x":5,"g":"opus-03","r":"a","y":-2.1,"e":0.6},{"x":6,"g":"opus-03","r":"a","y":-3.25,"e":1.2},
   {"x":0,"g":"opus-03","r":"b","y":0.1,"e":0.4},{"x":1,"g":"opus-03","r":"b","y":0.3,"e":0.4},{"x":2,"g":"opus-03","r":"b","y":0.4,"e":0.5},{"x":3,"g":"opus-03","r":"b","y":0.15,"e":0.6},{"x":4,"g":"opus-03","r":"b","y":-0.6,"e":0.45},{"x":5,"g":"opus-03","r":"b","y":-2.1,"e":0.4},{"x":6,"g":"opus-03","r":"b","y":-3.55,"e":0.4},
   {"x":0,"g":"opus-03","r":"c","y":0.2,"e":0.4},{"x":1,"g":"opus-03","r":"c","y":0.25,"e":0.4},{"x":2,"g":"opus-03","r":"c","y":0.35,"e":0.5},{"x":3,"g":"opus-03","r":"c","y":0.25,"e":0.5},{"x":4,"g":"opus-03","r":"c","y":0.25,"e":0.4},{"x":5,"g":"opus-03","r":"c","y":-3.3,"e":0.15},{"x":6,"g":"opus-03","r":"c","y":-3.85,"e":0.4}
  ],
  "h": [
   {"x":0,"g":"opus-36","r":"a","y":-0.2,"e":0.3},{"x":1,"g":"opus-36","r":"a","y":0.15,"e":0.4},{"x":2,"g":"opus-36","r":"a","y":0.4,"e":0.3},{"x":3,"g":"opus-36","r":"a","y":0.7,"e":0.3},{"x":4,"g":"opus-36","r":"a","y":0.65,"e":0.2},{"x":5,"g":"opus-36","r":"a","y":0.3,"e":0.35},{"x":6,"g":"opus-36","r":"a","y":0.1,"e":0.3},
   {"x":0,"g":"opus-36","r":"b","y":0.2,"e":0.3},{"x":1,"g":"opus-36","r":"b","y":0.4,"e":0.3},{"x":2,"g":"opus-36","r":"b","y":0.5,"e":0.3},{"x":3,"g":"opus-36","r":"b","y":0.55,"e":0.3},{"x":4,"g":"opus-36","r":"b","y":0.55,"e":0.2},{"x":5,"g":"opus-36","r":"b","y":0.25,"e":0.3},{"x":6,"g":"opus-36","r":"b","y":0.0,"e":0.3},
   {"x":0,"g":"opus-36","r":"c","y":0.1,"e":0.3},{"x":1,"g":"opus-36","r":"c","y":0.35,"e":0.3},{"x":2,"g":"opus-36","r":"c","y":0.45,"e":0.3},{"x":3,"g":"opus-36","r":"c","y":0.5,"e":0.3},{"x":4,"g":"opus-36","r":"c","y":0.5,"e":0.2},{"x":5,"g":"opus-36","r":"c","y":0.3,"e":0.3},{"x":6,"g":"opus-36","r":"c","y":-0.1,"e":0.3},
   {"x":0,"g":"opus-12","r":"a","y":0.2,"e":0.3},{"x":1,"g":"opus-12","r":"a","y":0.4,"e":0.3},{"x":2,"g":"opus-12","r":"a","y":0.5,"e":0.3},{"x":3,"g":"opus-12","r":"a","y":0.5,"e":0.3},{"x":4,"g":"opus-12","r":"a","y":0.5,"e":0.2},{"x":5,"g":"opus-12","r":"a","y":0.1,"e":0.3},{"x":6,"g":"opus-12","r":"a","y":-0.8,"e":0.3},
   {"x":0,"g":"opus-12","r":"b","y":0.25,"e":0.3},{"x":1,"g":"opus-12","r":"b","y":0.45,"e":0.3},{"x":2,"g":"opus-12","r":"b","y":0.6,"e":0.3},{"x":3,"g":"opus-12","r":"b","y":0.55,"e":0.3},{"x":4,"g":"opus-12","r":"b","y":0.45,"e":0.2},{"x":5,"g":"opus-12","r":"b","y":0.0,"e":0.3},{"x":6,"g":"opus-12","r":"b","y":-1.25,"e":0.4},
   {"x":0,"g":"opus-12","r":"c","y":0.15,"e":0.3},{"x":1,"g":"opus-12","r":"c","y":0.35,"e":0.3},{"x":2,"g":"opus-12","r":"c","y":0.45,"e":0.3},{"x":3,"g":"opus-12","r":"c","y":0.45,"e":0.3},{"x":4,"g":"opus-12","r":"c","y":0.4,"e":0.2},{"x":5,"g":"opus-12","r":"c","y":0.05,"e":0.3},{"x":6,"g":"opus-12","r":"c","y":-1.1,"e":0.3},
   {"x":0,"g":"opus-09","r":"a","y":0.3,"e":0.45},{"x":1,"g":"opus-09","r":"a","y":0.5,"e":0.5},{"x":2,"g":"opus-09","r":"a","y":0.4,"e":0.3},{"x":3,"g":"opus-09","r":"a","y":0.3,"e":0.4},{"x":4,"g":"opus-09","r":"a","y":0.3,"e":0.2},{"x":5,"g":"opus-09","r":"a","y":-0.55,"e":0.3},{"x":6,"g":"opus-09","r":"a","y":-2.3,"e":0.3},
   {"x":0,"g":"opus-09","r":"b","y":0.1,"e":0.3},{"x":1,"g":"opus-09","r":"b","y":0.4,"e":0.3},{"x":2,"g":"opus-09","r":"b","y":0.5,"e":0.3},{"x":3,"g":"opus-09","r":"b","y":0.45,"e":0.3},{"x":4,"g":"opus-09","r":"b","y":0.4,"e":0.2},{"x":5,"g":"opus-09","r":"b","y":-0.1,"e":0.3},{"x":6,"g":"opus-09","r":"b","y":-1.2,"e":0.3},
   {"x":0,"g":"opus-09","r":"c","y":0.2,"e":0.3},{"x":1,"g":"opus-09","r":"c","y":0.35,"e":0.3},{"x":2,"g":"opus-09","r":"c","y":0.4,"e":0.3},{"x":3,"g":"opus-09","r":"c","y":0.35,"e":0.3},{"x":4,"g":"opus-09","r":"c","y":0.35,"e":0.2},{"x":5,"g":"opus-09","r":"c","y":-0.2,"e":0.3},{"x":6,"g":"opus-09","r":"c","y":-0.6,"e":0.3},
   {"x":0,"g":"opus-06","r":"a","y":0.25,"e":0.3},{"x":1,"g":"opus-06","r":"a","y":0.55,"e":0.3},{"x":2,"g":"opus-06","r":"a","y":0.65,"e":0.3},{"x":3,"g":"opus-06","r":"a","y":0.6,"e":0.3},{"x":4,"g":"opus-06","r":"a","y":0.45,"e":0.2},{"x":5,"g":"opus-06","r":"a","y":0.2,"e":0.3},{"x":6,"g":"opus-06","r":"a","y":-0.35,"e":0.3},
   {"x":0,"g":"opus-06","r":"b","y":0.2,"e":0.3},{"x":1,"g":"opus-06","r":"b","y":0.45,"e":0.3},{"x":2,"g":"opus-06","r":"b","y":0.55,"e":0.3},{"x":3,"g":"opus-06","r":"b","y":0.5,"e":0.3},{"x":4,"g":"opus-06","r":"b","y":0.4,"e":0.2},{"x":5,"g":"opus-06","r":"b","y":0.1,"e":0.3},{"x":6,"g":"opus-06","r":"b","y":-0.8,"e":0.3},
   {"x":0,"g":"opus-06","r":"c","y":0.3,"e":0.3},{"x":1,"g":"opus-06","r":"c","y":0.5,"e":0.3},{"x":2,"g":"opus-06","r":"c","y":0.6,"e":0.3},{"x":3,"g":"opus-06","r":"c","y":0.55,"e":0.3},{"x":4,"g":"opus-06","r":"c","y":0.35,"e":0.2},{"x":5,"g":"opus-06","r":"c","y":-2.8,"e":0.1},{"x":6,"g":"opus-06","r":"c","y":-2.8,"e":0.1},
   {"x":0,"g":"opus-03","r":"a","y":0.25,"e":0.3},{"x":1,"g":"opus-03","r":"a","y":0.4,"e":0.3},{"x":2,"g":"opus-03","r":"a","y":0.35,"e":0.3},{"x":3,"g":"opus-03","r":"a","y":0.25,"e":0.3},{"x":4,"g":"opus-03","r":"a","y":-0.1,"e":0.3},{"x":5,"g":"opus-03","r":"a","y":-3.1,"e":0.1},{"x":6,"g":"opus-03","r":"a","y":-4.1,"e":0.3},
   {"x":0,"g":"opus-03","r":"b","y":0.2,"e":0.3},{"x":1,"g":"opus-03","r":"b","y":0.35,"e":0.3},{"x":2,"g":"opus-03","r":"b","y":0.3,"e":0.3},{"x":3,"g":"opus-03","r":"b","y":0.3,"e":0.3},{"x":4,"g":"opus-03","r":"b","y":-0.3,"e":0.4},{"x":5,"g":"opus-03","r":"b","y":-3.2,"e":0.1},{"x":6,"g":"opus-03","r":"b","y":-4.4,"e":0.2},
   {"x":0,"g":"opus-03","r":"c","y":0.3,"e":0.3},{"x":1,"g":"opus-03","r":"c","y":0.55,"e":0.3},{"x":2,"g":"opus-03","r":"c","y":0.65,"e":0.3},{"x":3,"g":"opus-03","r":"c","y":0.5,"e":0.3},{"x":4,"g":"opus-03","r":"c","y":0.4,"e":0.2},{"x":5,"g":"opus-03","r":"c","y":0.3,"e":0.3},{"x":6,"g":"opus-03","r":"c","y":-0.25,"e":0.3}
  ]
 },
 "concat": [
  {"width": 248, "height": 143, "data": {"name": "a"}, "title": {"text": "(a)  en, per dataset size"},
   "resolve": {"axis": {"x": "independent", "y": "independent"}, "scale": {"color": "independent"}, "legend": {"color": "independent"}},
   "layer": [
    {"mark": {"type": "errorbar", "ticks": {"size": 5}, "clip": true, "opacity": 0.85},
     "encoding": {"x": {"field": "x", "type": "quantitative", "scale": {"domain": [-3.9, 78.9], "nice": false, "zero": false}, "axis": {"orient": "top", "values": [3,6,9,12,15,18,21,24,27,30,33,36,39,42,45,48,51,54,57,60,63,66,69,72], "labels": false, "tickSize": -4, "title": null}},
      "y": {"field": "y", "type": "quantitative", "scale": {"domain": [-4.5, 4.5], "nice": false, "zero": false}, "axis": {"orient": "right", "values": [-4,-3,-2,-1,0,1,2,3,4], "labels": false, "tickSize": -4, "title": null}},
      "yError": {"field": "e"},
      "color": {"field": "g", "type": "nominal", "scale": {"domain": ["s = 1", "s = 0"], "range": ["#a51c1c", "#1a9090"]}, "legend": null},
      "detail": {"field": "r"}}},
    {"mark": {"type": "line", "strokeWidth": 1, "clip": true, "point": {"filled": false, "fill": "white", "size": 42, "strokeWidth": 1}},
     "encoding": {"x": {"field": "x", "type": "quantitative", "axis": {"orient": "bottom", "values": [3,6,9,12,24,36,48,60,72], "labelOverlap": false, "tickSize": -4, "labelPadding": 7, "title": "Number of languages"}},
      "y": {"field": "y", "type": "quantitative", "axis": {"orient": "left", "values": [-4,-3,-2,-1,0,1,2,3,4], "grid": true, "gridColor": "#cfcfcf", "gridWidth": 1.5, "tickSize": -4, "labelPadding": 8, "title": null}},
      "color": {"field": "g", "type": "nominal", "scale": {"domain": ["s = 1", "s = 0"], "range": ["#a51c1c", "#1a9090"]}, "legend": {"orient": "none", "legendX": 57, "legendY": -24, "padding": 4, "labelFont": "Liberation Serif", "labelFontSize": 16, "columnPadding": 4, "labelOffset": 3, "encode": {"symbols": {"update": {"fill": {"value": "white"}}}}}},
      "detail": {"field": "r"}}}
   ]},
  {"width": 248, "height": 143, "data": {"name": "b"}, "title": {"text": "(b)  ar, per dataset size"},
   "resolve": {"axis": {"x": "independent", "y": "independent"}, "scale": {"color": "independent"}, "legend": {"color": "independent"}},
   "layer": [
    {"mark": {"type": "errorbar", "ticks": {"size": 5}, "clip": true, "opacity": 0.85},
     "encoding": {"x": {"field": "x", "type": "quantitative", "scale": {"domain": [-3.9, 78.9], "nice": false, "zero": false}, "axis": {"orient": "top", "values": [3,6,9,12,15,18,21,24,27,30,33,36,39,42,45,48,51,54,57,60,63,66,69,72], "labels": false, "tickSize": -4, "title": null}},
      "y": {"field": "y", "type": "quantitative", "scale": {"domain": [-4.5, 4.5], "nice": false, "zero": false}, "axis": {"orient": "right", "values": [-4,-3,-2,-1,0,1,2,3,4], "labels": false, "tickSize": -4, "title": null}},
      "yError": {"field": "e"},
      "color": {"field": "g", "type": "nominal", "scale": {"domain": ["s = 1", "s = 0"], "range": ["#a51c1c", "#1a9090"]}, "legend": null},
      "detail": {"field": "r"}}},
    {"mark": {"type": "line", "strokeWidth": 1, "clip": true, "point": {"filled": false, "fill": "white", "size": 42, "strokeWidth": 1}},
     "encoding": {"x": {"field": "x", "type": "quantitative", "axis": {"orient": "bottom", "values": [3,6,9,12,24,36,48,60,72], "labelOverlap": false, "tickSize": -4, "labelPadding": 7, "title": "Number of languages"}},
      "y": {"field": "y", "type": "quantitative", "axis": {"orient": "left", "values": [-4,-3,-2,-1,0,1,2,3,4], "grid": true, "gridColor": "#cfcfcf", "gridWidth": 1.5, "tickSize": -4, "labelPadding": 8, "title": null}},
      "color": {"field": "g", "type": "nominal", "scale": {"domain": ["s = 1", "s = 0"], "range": ["#a51c1c", "#1a9090"]}, "legend": {"orient": "none", "legendX": 57, "legendY": -24, "padding": 4, "labelFont": "Liberation Serif", "labelFontSize": 16, "columnPadding": 4, "labelOffset": 3, "encode": {"symbols": {"update": {"fill": {"value": "white"}}}}}},
      "detail": {"field": "r"}}}
   ]},
  {"width": 248, "height": 143, "data": {"name": "c"}, "title": {"text": "(c)  fr, per dataset size"},
   "resolve": {"axis": {"x": "independent", "y": "independent"}, "scale": {"color": "independent"}, "legend": {"color": "independent"}},
   "layer": [
    {"mark": {"type": "errorbar", "ticks": {"size": 5}, "clip": true, "opacity": 0.85},
     "encoding": {"x": {"field": "x", "type": "quantitative", "scale": {"domain": [-3.9, 78.9], "nice": false, "zero": false}, "axis": {"orient": "top", "values": [3,6,9,12,15,18,21,24,27,30,33,36,39,42,45,48,51,54,57,60,63,66,69,72], "labels": false, "tickSize": -4, "title": null}},
      "y": {"field": "y", "type": "quantitative", "scale": {"domain": [-4.5, 4.5], "nice": false, "zero": false}, "axis": {"orient": "right", "values": [-4,-3,-2,-1,0,1,2,3,4], "labels": false, "tickSize": -4, "title": null}},
      "yError": {"field": "e"},
      "color": {"field": "g", "type": "nominal", "scale": {"domain": ["s = 1", "s = 0"], "range": ["#a51c1c", "#1a9090"]}, "legend": null},
      "detail": {"field": "r"}}},
    {"mark": {"type": "line", "strokeWidth": 1, "clip": true, "point": {"filled": false, "fill": "white", "size": 42, "strokeWidth": 1}},
     "encoding": {"x": {"field": "x", "type": "quantitative", "axis": {"orient": "bottom", "values": [3,6,9,12,24,36,48,60,72], "labelOverlap": false, "tickSize": -4, "labelPadding": 7, "title": "Number of languages"}},
      "y": {"field": "y", "type": "quantitative", "axis": {"orient": "left", "values": [-4,-3,-2,-1,0,1,2,3,4], "grid": true, "gridColor": "#cfcfcf", "gridWidth": 1.5, "tickSize": -4, "labelPadding": 8, "title": null}},
      "color": {"field": "g", "type": "nominal", "scale": {"domain": ["s = 1", "s = 0"], "range": ["#a51c1c", "#1a9090"]}, "legend": {"orient": "none", "legendX": 57, "legendY": -24, "padding": 4, "labelFont": "Liberation Serif", "labelFontSize": 16, "columnPadding": 4, "labelOffset": 3, "encode": {"symbols": {"update": {"fill": {"value": "white"}}}}}},
      "detail": {"field": "r"}}}
   ]},
  {"width": 248, "height": 143, "data": {"name": "d"}, "title": {"text": "(d)  zh, per dataset size"},
   "resolve": {"axis": {"x": "independent", "y": "independent"}, "scale": {"color": "independent"}, "legend": {"color": "independent"}},
   "layer": [
    {"mark": {"type": "errorbar", "ticks": {"size": 5}, "clip": true, "opacity": 0.85},
     "encoding": {"x": {"field": "x", "type": "quantitative", "scale": {"domain": [-3.9, 78.9], "nice": false, "zero": false}, "axis": {"orient": "top", "values": [3,6,9,12,15,18,21,24,27,30,33,36,39,42,45,48,51,54,57,60,63,66,69,72], "labels": false, "tickSize": -4, "title": null}},
      "y": {"field": "y", "type": "quantitative", "scale": {"domain": [-4.5, 4.5], "nice": false, "zero": false}, "axis": {"orient": "right", "values": [-4,-3,-2,-1,0,1,2,3,4], "labels": false, "tickSize": -4, "title": null}},
      "yError": {"field": "e"},
      "color": {"field": "g", "type": "nominal", "scale": {"domain": ["s = 1", "s = 0"], "range": ["#a51c1c", "#1a9090"]}, "legend": null},
      "detail": {"field": "r"}}},
    {"mark": {"type": "line", "strokeWidth": 1, "clip": true, "point": {"filled": false, "fill": "white", "size": 42, "strokeWidth": 1}},
     "encoding": {"x": {"field": "x", "type": "quantitative", "axis": {"orient": "bottom", "values": [3,6,9,12,24,36,48,60,72], "labelOverlap": false, "tickSize": -4, "labelPadding": 7, "title": "Number of languages"}},
      "y": {"field": "y", "type": "quantitative", "axis": {"orient": "left", "values": [-4,-3,-2,-1,0,1,2,3,4], "grid": true, "gridColor": "#cfcfcf", "gridWidth": 1.5, "tickSize": -4, "labelPadding": 8, "title": null}},
      "color": {"field": "g", "type": "nominal", "scale": {"domain": ["s = 1", "s = 0"], "range": ["#a51c1c", "#1a9090"]}, "legend": {"orient": "none", "legendX": 57, "legendY": -24, "padding": 4, "labelFont": "Liberation Serif", "labelFontSize": 16, "columnPadding": 4, "labelOffset": 3, "encode": {"symbols": {"update": {"fill": {"value": "white"}}}}}},
      "detail": {"field": "r"}}}
   ]},
  {"width": 248, "height": 143, "data": {"name": "e"}, "title": {"text": "(e)  en, per shared layers"},
   "resolve": {"axis": {"x": "independent", "y": "independent"}, "scale": {"color": "independent"}, "legend": {"color": "independent"}},
   "layer": [
    {"mark": {"type": "errorbar", "ticks": {"size": 5}, "clip": true, "opacity": 0.85},
     "encoding": {"x": {"field": "x", "type": "quantitative", "scale": {"domain": [-0.6, 6.6], "nice": false, "zero": false}, "axis": {"orient": "top", "values": [0,1,2,3,4,5,6], "labels": false, "tickSize": -4, "title": null}},
      "y": {"field": "y", "type": "quantitative", "scale": {"domain": [-4.5, 4.5], "nice": false, "zero": false}, "axis": {"orient": "right", "values": [-4,-3,-2,-1,0,1,2,3,4], "labels": false, "tickSize": -4, "title": null}},
      "yError": {"field": "e"},
      "color": {"field": "g", "type": "nominal", "scale": {"domain": ["opus-36", "opus-12", "opus-09", "opus-06", "opus-03"], "range": ["#a51c1c", "#e08a2c", "#f2d04c", "#6aad3d", "#1d7d1d"]}, "legend": null},
      "detail": {"field": "r"}}},
    {"mark": {"type": "line", "strokeWidth": 1, "clip": true, "point": {"filled": false, "fill": "white", "size": 42, "strokeWidth": 1}},
     "encoding": {"x": {"field": "x", "type": "quantitative", "axis": {"orient": "bottom", "values": [0,1,2,3,4,5,6], "tickSize": -4, "labelPadding": 7, "title": "Number of shared layers s"}},
      "y": {"field": "y", "type": "quantitative", "axis": {"orient": "left", "values": [-4,-3,-2,-1,0,1,2,3,4], "grid": true, "gridColor": "#cfcfcf", "gridWidth": 1.5, "tickSize": -4, "labelPadding": 8, "title": null}},
      "color": {"field": "g", "type": "nominal", "scale": {"domain": ["opus-36", "opus-12", "opus-09", "opus-06", "opus-03"], "range": ["#a51c1c", "#e08a2c", "#f2d04c", "#6aad3d", "#1d7d1d"]}, "legend": {"orient": "none", "legendX": -2, "legendY": -41, "columns": 3, "labelFont": "Liberation Mono", "labelFontSize": 11, "columnPadding": 8, "encode": {"symbols": {"update": {"fill": {"value": "white"}}}}}},
      "detail": {"field": "r"}}}
   ]},
  {"width": 248, "height": 143, "data": {"name": "f"}, "title": {"text": "(f)  ar, per shared layers"},
   "resolve": {"axis": {"x": "independent", "y": "independent"}, "scale": {"color": "independent"}, "legend": {"color": "independent"}},
   "layer": [
    {"mark": {"type": "errorbar", "ticks": {"size": 5}, "clip": true, "opacity": 0.85},
     "encoding": {"x": {"field": "x", "type": "quantitative", "scale": {"domain": [-0.6, 6.6], "nice": false, "zero": false}, "axis": {"orient": "top", "values": [0,1,2,3,4,5,6], "labels": false, "tickSize": -4, "title": null}},
      "y": {"field": "y", "type": "quantitative", "scale": {"domain": [-4.5, 4.5], "nice": false, "zero": false}, "axis": {"orient": "right", "values": [-4,-3,-2,-1,0,1,2,3,4], "labels": false, "tickSize": -4, "title": null}},
      "yError": {"field": "e"},
      "color": {"field": "g", "type": "nominal", "scale": {"domain": ["opus-36", "opus-12", "opus-09", "opus-06", "opus-03"], "range": ["#a51c1c", "#e08a2c", "#f2d04c", "#6aad3d", "#1d7d1d"]}, "legend": null},
      "detail": {"field": "r"}}},
    {"mark": {"type": "line", "strokeWidth": 1, "clip": true, "point": {"filled": false, "fill": "white", "size": 42, "strokeWidth": 1}},
     "encoding": {"x": {"field": "x", "type": "quantitative", "axis": {"orient": "bottom", "values": [0,1,2,3,4,5,6], "tickSize": -4, "labelPadding": 7, "title": "Number of shared layers s"}},
      "y": {"field": "y", "type": "quantitative", "axis": {"orient": "left", "values": [-4,-3,-2,-1,0,1,2,3,4], "grid": true, "gridColor": "#cfcfcf", "gridWidth": 1.5, "tickSize": -4, "labelPadding": 8, "title": null}},
      "color": {"field": "g", "type": "nominal", "scale": {"domain": ["opus-36", "opus-12", "opus-09", "opus-06", "opus-03"], "range": ["#a51c1c", "#e08a2c", "#f2d04c", "#6aad3d", "#1d7d1d"]}, "legend": {"orient": "none", "legendX": -2, "legendY": -41, "columns": 3, "labelFont": "Liberation Mono", "labelFontSize": 11, "columnPadding": 8, "encode": {"symbols": {"update": {"fill": {"value": "white"}}}}}},
      "detail": {"field": "r"}}}
   ]},
  {"width": 248, "height": 143, "data": {"name": "g"}, "title": {"text": "(g)  fr, per shared layers"},
   "resolve": {"axis": {"x": "independent", "y": "independent"}, "scale": {"color": "independent"}, "legend": {"color": "independent"}},
   "layer": [
    {"mark": {"type": "errorbar", "ticks": {"size": 5}, "clip": true, "opacity": 0.85},
     "encoding": {"x": {"field": "x", "type": "quantitative", "scale": {"domain": [-0.6, 6.6], "nice": false, "zero": false}, "axis": {"orient": "top", "values": [0,1,2,3,4,5,6], "labels": false, "tickSize": -4, "title": null}},
      "y": {"field": "y", "type": "quantitative", "scale": {"domain": [-4.5, 4.5], "nice": false, "zero": false}, "axis": {"orient": "right", "values": [-4,-3,-2,-1,0,1,2,3,4], "labels": false, "tickSize": -4, "title": null}},
      "yError": {"field": "e"},
      "color": {"field": "g", "type": "nominal", "scale": {"domain": ["opus-36", "opus-12", "opus-09", "opus-06", "opus-03"], "range": ["#a51c1c", "#e08a2c", "#f2d04c", "#6aad3d", "#1d7d1d"]}, "legend": null},
      "detail": {"field": "r"}}},
    {"mark": {"type": "line", "strokeWidth": 1, "clip": true, "point": {"filled": false, "fill": "white", "size": 42, "strokeWidth": 1}},
     "encoding": {"x": {"field": "x", "type": "quantitative", "axis": {"orient": "bottom", "values": [0,1,2,3,4,5,6], "tickSize": -4, "labelPadding": 7, "title": "Number of shared layers s"}},
      "y": {"field": "y", "type": "quantitative", "axis": {"orient": "left", "values": [-4,-3,-2,-1,0,1,2,3,4], "grid": true, "gridColor": "#cfcfcf", "gridWidth": 1.5, "tickSize": -4, "labelPadding": 8, "title": null}},
      "color": {"field": "g", "type": "nominal", "scale": {"domain": ["opus-36", "opus-12", "opus-09", "opus-06", "opus-03"], "range": ["#a51c1c", "#e08a2c", "#f2d04c", "#6aad3d", "#1d7d1d"]}, "legend": {"orient": "none", "legendX": -2, "legendY": -41, "columns": 3, "labelFont": "Liberation Mono", "labelFontSize": 11, "columnPadding": 8, "encode": {"symbols": {"update": {"fill": {"value": "white"}}}}}},
      "detail": {"field": "r"}}}
   ]},
  {"width": 248, "height": 143, "data": {"name": "h"}, "title": {"text": "(h)  zh, per shared layers"},
   "resolve": {"axis": {"x": "independent", "y": "independent"}, "scale": {"color": "independent"}, "legend": {"color": "independent"}},
   "layer": [
    {"mark": {"type": "errorbar", "ticks": {"size": 5}, "clip": true, "opacity": 0.85},
     "encoding": {"x": {"field": "x", "type": "quantitative", "scale": {"domain": [-0.6, 6.6], "nice": false, "zero": false}, "axis": {"orient": "top", "values": [0,1,2,3,4,5,6], "labels": false, "tickSize": -4, "title": null}},
      "y": {"field": "y", "type": "quantitative", "scale": {"domain": [-4.5, 4.5], "nice": false, "zero": false}, "axis": {"orient": "right", "values": [-4,-3,-2,-1,0,1,2,3,4], "labels": false, "tickSize": -4, "title": null}},
      "yError": {"field": "e"},
      "color": {"field": "g", "type": "nominal", "scale": {"domain": ["opus-36", "opus-12", "opus-09", "opus-06", "opus-03"], "range": ["#a51c1c", "#e08a2c", "#f2d04c", "#6aad3d", "#1d7d1d"]}, "legend": null},
      "detail": {"field": "r"}}},
    {"mark": {"type": "line", "strokeWidth": 1, "clip": true, "point": {"filled": false, "fill": "white", "size": 42, "strokeWidth": 1}},
     "encoding": {"x": {"field": "x", "type": "quantitative", "axis": {"orient": "bottom", "values": [0,1,2,3,4,5,6], "tickSize": -4, "labelPadding": 7, "title": "Number of shared layers s"}},
      "y": {"field": "y", "type": "quantitative", "axis": {"orient": "left", "values": [-4,-3,-2,-1,0,1,2,3,4], "grid": true, "gridColor": "#cfcfcf", "gridWidth": 1.5, "tickSize": -4, "labelPadding": 8, "title": null}},
      "color": {"field": "g", "type": "nominal", "scale": {"domain": ["opus-36", "opus-12", "opus-09", "opus-06", "opus-03"], "range": ["#a51c1c", "#e08a2c", "#f2d04c", "#6aad3d", "#1d7d1d"]}, "legend": {"orient": "none", "legendX": -2, "legendY": -41, "columns": 3, "labelFont": "Liberation Mono", "labelFontSize": 11, "columnPadding": 8, "encode": {"symbols": {"update": {"fill": {"value": "white"}}}}}},
      "detail": {"field": "r"}}}
   ]}
 ]
}
